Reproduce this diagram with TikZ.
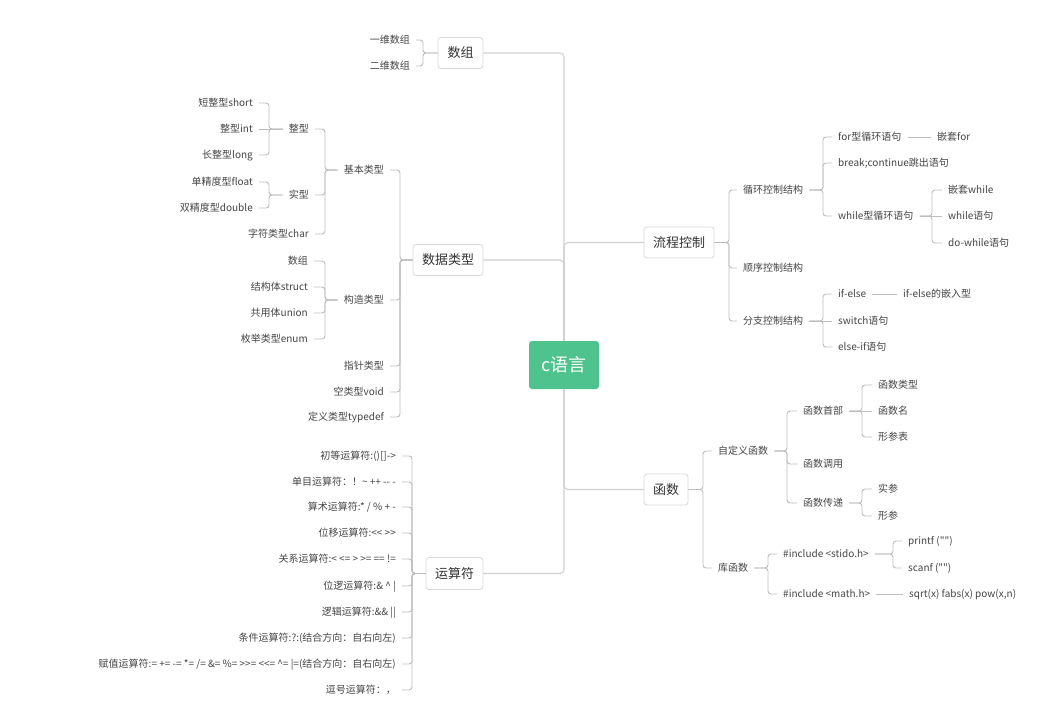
\documentclass[tikz,border=0pt]{standalone}
\usepackage{fontspec}
\setmainfont{Noto Sans CJK SC}[Ligatures=TeXOff]
\definecolor{lineC}{HTML}{BDBDBD}
\definecolor{trunkC}{HTML}{CFCFCF}
\definecolor{boxC}{HTML}{D8D8D8}
\definecolor{txtC}{HTML}{444444}
\definecolor{txtD}{HTML}{333333}
\definecolor{rootC}{HTML}{4FC38D}
\tikzset{
  conn/.style={draw=lineC, line width=0.9pt, rounded corners=3pt},
  trunk/.style={draw=trunkC, line width=1.1pt, rounded corners=4pt},
  leaf/.style={font=\fontsize{10}{12}\selectfont, text=txtC, inner xsep=6pt, inner ysep=0pt, text height=8pt, text depth=2pt},
  lleaf/.style={leaf, anchor=east},
  rleaf/.style={leaf, anchor=west},
  topic/.style={draw=boxC, line width=0.8pt, rounded corners=3pt, fill=white, font=\fontsize{13}{15}\selectfont, text=txtD, minimum height=31pt, inner xsep=0pt},
  rootbox/.style={fill=rootC, rounded corners=3pt, text=white, font=\fontsize{18}{20}\selectfont, minimum width=70pt, minimum height=48pt}
}
\newcommand\RL[3]{\draw[conn] (#1.east) -- (#1.east -| #3) |- (#2.west);}
\newcommand\LL[3]{\draw[conn] (#1.west) -- (#1.west -| #3) |- (#2.east);}
\newcommand\SR[2]{\draw[conn] (#1.east) -- (#2.west);}
\newcommand\SLft[2]{\draw[conn] (#1.west) -- (#2.east);}
\begin{document}
\begin{tikzpicture}[x=1pt,y=-1pt]
\useasboundingbox (0,0) rectangle (1045,707);
% bracket x coordinates
\coordinate (bA) at (423,0);
\coordinate (bB) at (400,0);
\coordinate (bC) at (325,0);
\coordinate (bD) at (269,0);
\coordinate (bE) at (412,0);
\coordinate (bF) at (729,0);
\coordinate (bG) at (823,0);
\coordinate (bH) at (932,0);
\coordinate (bI) at (703,0);
\coordinate (bJ) at (787,0);
\coordinate (bK) at (862,0);
\coordinate (bL) at (768,0);
\coordinate (bM) at (893,0);

% root and main topics
\node[rootbox] (root) at (564,365) {c语言};
\node[topic, minimum width=45pt] (sz) at (460.5,53) {数组};
\node[topic, minimum width=70pt] (sjlx) at (448,260) {数据类型};
\node[topic, minimum width=57pt, minimum height=32pt] (ysf) at (454.5,573.5) {运算符};
\node[topic, minimum width=70pt] (lckz) at (679,242.5) {流程控制};
\node[topic, minimum width=44pt] (hs) at (666,489.5) {函数};

\draw[trunk] (sz.east) -| (root.north);
\draw[trunk] (sjlx.east) -| (root.north);
\draw[trunk] (lckz.west) -| (root.north);
\draw[trunk] (hs.west) -| (root.south);
\draw[trunk] (ysf.east) -| (root.south);

% 数组
\node[lleaf] (sz1) at (416,40) {一维数组};
\node[lleaf] (sz2) at (416,66) {二维数组};
\LL{sz}{sz1}{bA} \LL{sz}{sz2}{bA}

% 数据类型
\node[lleaf] (jb) at (390,170) {基本类型};
\node[lleaf] (gz) at (390,300) {构造类型};
\node[lleaf] (zz) at (390,366) {指针类型};
\node[lleaf] (kl) at (390,392) {空类型void};
\node[lleaf] (dy) at (390,417) {定义类型typedef};
\foreach \c in {jb,gz,zz,kl,dy} {\LL{sjlx}{\c}{bB}}

\node[lleaf] (zx) at (315,129) {整型};
\node[lleaf] (sx) at (315,195) {实型};
\node[lleaf] (zf) at (315,234) {字符类型char};
\foreach \c in {zx,sx,zf} {\LL{jb}{\c}{bC}}

\node[lleaf] (zx1) at (259,103) {短整型short};
\node[lleaf] (zx2) at (259,129) {整型int};
\node[lleaf] (zx3) at (259,155) {长整型long};
\LL{zx}{zx1}{bD} \SLft{zx}{zx2} \LL{zx}{zx3}{bD}

\node[lleaf] (sx1) at (259,182) {单精度型float};
\node[lleaf] (sx2) at (259,208) {双精度型double};
\LL{sx}{sx1}{bD} \LL{sx}{sx2}{bD}

\node[lleaf] (gz1) at (314,261) {数组};
\node[lleaf] (gz2) at (314,287) {结构体struct};
\node[lleaf] (gz3) at (314,313) {共用体union};
\node[lleaf] (gz4) at (314,339) {枚举类型enum};
\foreach \c in {gz1,gz2,gz3,gz4} {\LL{gz}{\c}{bC}}

% 运算符
\node[lleaf] (o1) at (402,456) {初等运算符:()[]->};
\node[lleaf] (o2) at (402,482) {单目运算符：！\textasciitilde{} ++ -{}- -};
\node[lleaf] (o3) at (402,507) {算术运算符:* / \% + -};
\node[lleaf] (o4) at (402,533) {位移运算符:<{}< >{}>};
\node[lleaf] (o5) at (402,559) {关系运算符:< <= > >= == !=};
\node[lleaf] (o6) at (402,586) {位逻运算符:\& \textasciicircum{} |};
\node[lleaf] (o7) at (402,612) {逻辑运算符:\&\& ||};
\node[lleaf] (o8) at (402,638) {条件运算符:?:(结合方向：自右向左)};
\node[lleaf] (o9) at (402,664) {赋值运算符:= += -= *= /= \&= \%= >{}>= <{}<= \textasciicircum= |=(结合方向：自右向左)};
\node[lleaf] (o10) at (402,690) {逗号运算符：，};
\foreach \c in {o1,o2,o3,o4,o5,o6,o7,o8,o9,o10} {\LL{ysf}{\c}{bE}}

% 流程控制
\node[rleaf] (xh) at (737,190) {循环控制结构};
\node[rleaf] (sxk) at (737,268) {顺序控制结构};
\node[rleaf] (fz) at (737,321) {分支控制结构};
\foreach \c in {xh,sxk,fz} {\RL{lckz}{\c}{bF}}

\node[rleaf] (for) at (832,137) {for型循环语句};
\node[rleaf] (brk) at (832,163) {break;continue跳出语句};
\node[rleaf] (wh) at (832,216) {while型循环语句};
\foreach \c in {for,brk,wh} {\RL{xh}{\c}{bG}}
\node[rleaf] (qfor) at (931,137) {嵌套for};
\draw[conn] ([xshift=1pt]for.east) -- (qfor.west);

\node[rleaf] (qwh) at (942,190) {嵌套while};
\node[rleaf] (whs) at (942,216) {while语句};
\node[rleaf] (dwh) at (942,243) {do-while语句};
\RL{wh}{qwh}{bH} \SR{wh}{whs} \RL{wh}{dwh}{bH}

\node[rleaf] (ife) at (832,294) {if-else};
\node[rleaf] (sw) at (832,321) {switch语句};
\node[rleaf] (eif) at (832,347) {else-if语句};
\RL{fz}{ife}{bG} \SR{fz}{sw} \RL{fz}{eif}{bG}
\node[rleaf] (ifq) at (897,294) {if-else的嵌入型};
\draw[conn] (ife.east) -- (ifq.west);

% 函数
\node[rleaf] (zdy) at (712,451) {自定义函数};
\node[rleaf] (khs) at (712,568) {库函数};
\RL{hs}{zdy}{bI} \RL{hs}{khs}{bI}

\node[rleaf] (sb) at (797,411) {函数首部};
\node[rleaf] (dyy) at (797,464) {函数调用};
\node[rleaf] (cd) at (797,503) {函数传递};
\foreach \c in {sb,dyy,cd} {\RL{zdy}{\c}{bJ}}

\node[rleaf] (lx) at (872,385) {函数类型};
\node[rleaf] (hm) at (872,411) {函数名};
\node[rleaf] (xcb) at (872,437) {形参表};
\RL{sb}{lx}{bK} \SR{sb}{hm} \RL{sb}{xcb}{bK}

\node[rleaf] (sc) at (872,489) {实参};
\node[rleaf] (xc) at (872,516) {形参};
\RL{cd}{sc}{bK} \RL{cd}{xc}{bK}

\node[rleaf] (std) at (777,554) {\#include <stido.h>};
\node[rleaf] (mth) at (777,594) {\#include <math.h>};
\RL{khs}{std}{bL} \RL{khs}{mth}{bL}

\node[rleaf] (pf) at (902,541) {printf ("")};
\node[rleaf] (sf) at (902,568) {scanf ("")};
\RL{std}{pf}{bM} \RL{std}{sf}{bM}

\node[rleaf] (mf) at (903,594) {sqrt(x) fabs(x) pow(x,n)};
\draw[conn] (mth.east) -- (mf.west);
\end{tikzpicture}
\end{document}
